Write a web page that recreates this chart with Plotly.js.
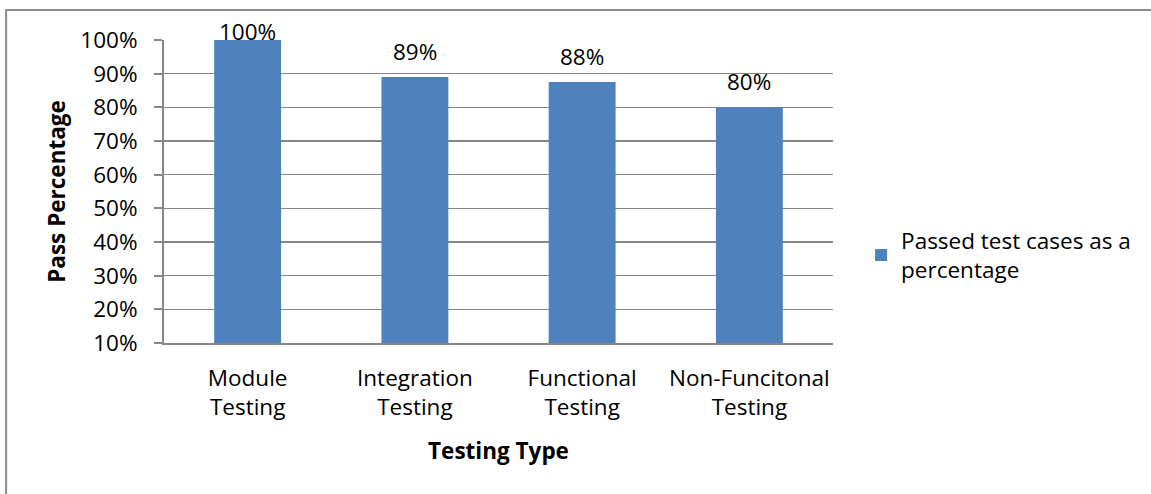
<!DOCTYPE html>
<html>
<head>
<meta charset="utf-8">
<script src="https://cdn.plot.ly/plotly-3.0.1.min.js"></script>
<style>html,body{margin:0;padding:0;background:#fff;}#chart{width:1151px;height:494px;}</style>
</head>
<body>
<div id="chart"></div>
<script>
const categories = ["Module<br>Testing", "Integration<br>Testing", "Functional<br>Testing", "Non-Funcitonal<br>Testing"];
const passPercent = [100, 89, 87.5, 80];
const seriesName = "Passed test cases as a<br>percentage";
const yTickVals = [10, 20, 30, 40, 50, 60, 70, 80, 90, 100];
const yTickText = ["10%", "20%", "30%", "40%", "50%", "60%", "70%", "80%", "90%", "100%"];

const FONT = "Open Sans, sans-serif";
const FS = 22.5;

const annotations = categories.map((c, i) => ({
  x: c, y: passPercent[i],
  xref: 'x', yref: 'y', text: Math.round(passPercent[i]) + '%',
  showarrow: false, yanchor: 'middle', xanchor: 'center',
  yshift: Math.min(26, 9 + (100 - passPercent[i]) * 10),
  font: {family: FONT, size: FS, color: '#000'}
}));

const trace = {
  type: 'bar', x: categories, y: passPercent, name: seriesName,
  marker: {color: '#4F81BD'}, showlegend: true, hoverinfo: 'none'
};

const layout = {
  width: 1151, height: 494,
  margin: {l: 164, r: 318, t: 40, b: 151},
  paper_bgcolor: '#fff', plot_bgcolor: '#fff',
  font: {family: FONT, size: FS, color: '#000'},
  bargap: 0.6,
  xaxis: {
    type: 'category', showline: true, linecolor: '#868686', linewidth: 2,
    showgrid: false, ticks: '', ticklabelstandoff: 14,
    tickfont: {family: FONT, size: FS, color: '#000'},
    title: {text: '<b>Testing Type</b>', font: {family: FONT, size: FS, color: '#000'}, standoff: 22},
    fixedrange: true
  },
  yaxis: {
    range: [10, 100], tickvals: yTickVals, ticktext: yTickText,
    showline: true, linecolor: '#868686', linewidth: 2,
    showgrid: true, gridcolor: '#868686', gridwidth: 1.5,
    ticks: 'outside', ticklen: 8, tickcolor: '#868686', tickwidth: 2,
    ticklabelstandoff: 12,
    tickfont: {family: FONT, size: FS, color: '#000'},
    title: {text: '<b>Pass Percentage</b>', font: {family: FONT, size: FS, color: '#000'}, standoff: 8},
    zeroline: false, fixedrange: true
  },
  showlegend: true,
  legend: {x: 1.042, y: 0.29, xanchor: 'left', yanchor: 'middle',
    font: {family: FONT, size: FS, color: '#000'}, bgcolor: 'rgba(0,0,0,0)'},
  annotations: annotations,
  shapes: [{
    type: 'path', xref: 'paper', yref: 'paper',
    path: 'M -0.236 -0.6 L -0.236 1.099 L 1.5 1.099',
    line: {color: '#8c8c8c', width: 2}, layer: 'below'
  }]
};

Plotly.newPlot('chart', [trace], layout, {displayModeBar: false, staticPlot: true});
</script>
</body>
</html>
